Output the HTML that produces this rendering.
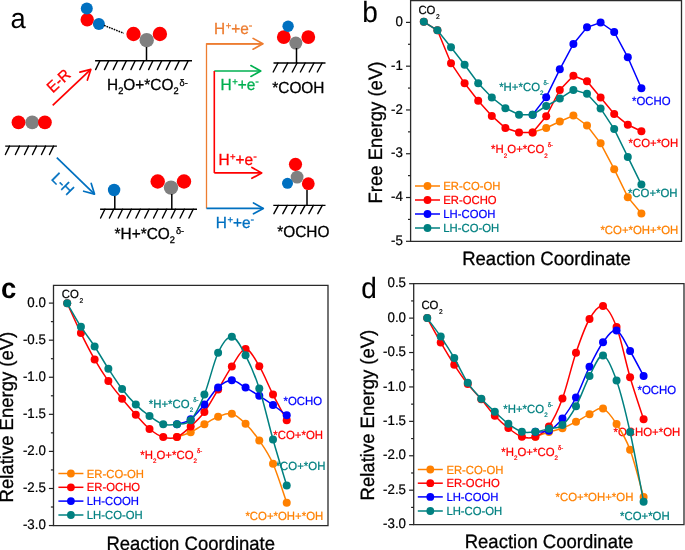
<!DOCTYPE html>
<html><head><meta charset="utf-8"><style>
html,body{margin:0;padding:0;background:#fff;width:685px;height:550px;overflow:hidden}
svg{display:block;will-change:transform}
text{font-family:"Liberation Sans", sans-serif;text-rendering:geometricPrecision}
</style></head><body>
<svg width="685" height="550" viewBox="0 0 685 550">
<rect width="685" height="550" fill="#fff"/>
<text transform="translate(10.60 28.30) scale(1 1.04) translate(-10.60 -28.30)" x="10.6" y="28.3" font-size="27.3" fill="#000">a</text>
<circle cx="87.20" cy="19.70" r="6.70" fill="#FF0000"/>
<circle cx="86.80" cy="8.60" r="6.00" fill="#0070C0"/>
<circle cx="98.90" cy="23.90" r="6.00" fill="#0070C0"/>
<line x1="104.10" y1="25.40" x2="123.80" y2="33.30" stroke="#000" stroke-width="1.5" stroke-dasharray="1.6 1.0"/>
<circle cx="133.50" cy="34.00" r="7.20" fill="#FF0000"/>
<circle cx="159.90" cy="34.00" r="7.20" fill="#FF0000"/>
<circle cx="146.70" cy="40.20" r="7.20" fill="#808080"/>
<line x1="146.50" y1="47.00" x2="146.50" y2="61.00" stroke="#000" stroke-width="1.5" />
<line x1="95.10" y1="60.80" x2="192.00" y2="60.80" stroke="#000" stroke-width="1.4" />
<line x1="95.60" y1="69.60" x2="99.90" y2="60.80" stroke="#000" stroke-width="1.4" stroke-linecap="round"/>
<line x1="104.43" y1="69.60" x2="108.73" y2="60.80" stroke="#000" stroke-width="1.4" stroke-linecap="round"/>
<line x1="113.26" y1="69.60" x2="117.56" y2="60.80" stroke="#000" stroke-width="1.4" stroke-linecap="round"/>
<line x1="122.09" y1="69.60" x2="126.39" y2="60.80" stroke="#000" stroke-width="1.4" stroke-linecap="round"/>
<line x1="130.92" y1="69.60" x2="135.22" y2="60.80" stroke="#000" stroke-width="1.4" stroke-linecap="round"/>
<line x1="139.75" y1="69.60" x2="144.05" y2="60.80" stroke="#000" stroke-width="1.4" stroke-linecap="round"/>
<line x1="148.58" y1="69.60" x2="152.88" y2="60.80" stroke="#000" stroke-width="1.4" stroke-linecap="round"/>
<line x1="157.41" y1="69.60" x2="161.71" y2="60.80" stroke="#000" stroke-width="1.4" stroke-linecap="round"/>
<line x1="166.24" y1="69.60" x2="170.54" y2="60.80" stroke="#000" stroke-width="1.4" stroke-linecap="round"/>
<line x1="175.07" y1="69.60" x2="179.37" y2="60.80" stroke="#000" stroke-width="1.4" stroke-linecap="round"/>
<line x1="183.90" y1="69.60" x2="188.20" y2="60.80" stroke="#000" stroke-width="1.4" stroke-linecap="round"/>
<circle cx="32.20" cy="122.40" r="6.90" fill="#808080"/>
<circle cx="18.50" cy="122.40" r="6.90" fill="#FF0000"/>
<circle cx="44.90" cy="122.40" r="6.90" fill="#FF0000"/>
<line x1="5.20" y1="146.10" x2="56.90" y2="146.10" stroke="#000" stroke-width="1.4" />
<line x1="5.40" y1="154.50" x2="9.50" y2="146.10" stroke="#000" stroke-width="1.4" stroke-linecap="round"/>
<line x1="15.40" y1="154.50" x2="19.50" y2="146.10" stroke="#000" stroke-width="1.4" stroke-linecap="round"/>
<line x1="24.50" y1="154.50" x2="28.60" y2="146.10" stroke="#000" stroke-width="1.4" stroke-linecap="round"/>
<line x1="32.50" y1="154.50" x2="36.60" y2="146.10" stroke="#000" stroke-width="1.4" stroke-linecap="round"/>
<line x1="41.50" y1="154.50" x2="45.60" y2="146.10" stroke="#000" stroke-width="1.4" stroke-linecap="round"/>
<line x1="49.50" y1="154.50" x2="53.60" y2="146.10" stroke="#000" stroke-width="1.4" stroke-linecap="round"/>
<line x1="52.70" y1="105.30" x2="90.80" y2="69.40" stroke="#FF0000" stroke-width="1.7" />
<polyline points="79.95,72.17 90.80,69.40 87.39,80.07" fill="none" stroke="#FF0000" stroke-width="1.7" stroke-linejoin="round" stroke-linecap="round"/>
<text x="52.70" y="93.40" font-size="15" fill="#FF0000" stroke="#FF0000" stroke-width="0.3" font-weight="normal" transform="rotate(-43 52.7 93.4) translate(52.70 93.40) scale(1 1.04) translate(-52.70 -93.40)">E-R</text>
<line x1="56.80" y1="157.70" x2="94.50" y2="194.10" stroke="#0070C0" stroke-width="1.7" />
<polyline points="91.22,183.39 94.50,194.10 83.68,191.20" fill="none" stroke="#0070C0" stroke-width="1.7" stroke-linejoin="round" stroke-linecap="round"/>
<text x="50.60" y="179.20" font-size="15" fill="#0070C0" stroke="#0070C0" stroke-width="0.3" font-weight="normal" transform="rotate(45 50.6 179.2) translate(50.60 179.20) scale(1 1.04) translate(-50.60 -179.20)">L-H</text>
<circle cx="114.10" cy="190.00" r="6.20" fill="#0070C0"/>
<line x1="114.80" y1="196.00" x2="114.80" y2="209.20" stroke="#000" stroke-width="1.5" />
<circle cx="157.70" cy="181.50" r="7.20" fill="#FF0000"/>
<circle cx="184.00" cy="181.50" r="7.20" fill="#FF0000"/>
<circle cx="171.00" cy="187.60" r="7.20" fill="#808080"/>
<line x1="171.80" y1="194.00" x2="171.80" y2="209.20" stroke="#000" stroke-width="1.5" />
<line x1="100.10" y1="209.20" x2="197.00" y2="209.20" stroke="#000" stroke-width="1.4" />
<line x1="100.60" y1="218.00" x2="104.90" y2="209.20" stroke="#000" stroke-width="1.4" stroke-linecap="round"/>
<line x1="109.43" y1="218.00" x2="113.73" y2="209.20" stroke="#000" stroke-width="1.4" stroke-linecap="round"/>
<line x1="118.26" y1="218.00" x2="122.56" y2="209.20" stroke="#000" stroke-width="1.4" stroke-linecap="round"/>
<line x1="127.09" y1="218.00" x2="131.39" y2="209.20" stroke="#000" stroke-width="1.4" stroke-linecap="round"/>
<line x1="135.92" y1="218.00" x2="140.22" y2="209.20" stroke="#000" stroke-width="1.4" stroke-linecap="round"/>
<line x1="144.75" y1="218.00" x2="149.05" y2="209.20" stroke="#000" stroke-width="1.4" stroke-linecap="round"/>
<line x1="153.58" y1="218.00" x2="157.88" y2="209.20" stroke="#000" stroke-width="1.4" stroke-linecap="round"/>
<line x1="162.41" y1="218.00" x2="166.71" y2="209.20" stroke="#000" stroke-width="1.4" stroke-linecap="round"/>
<line x1="171.24" y1="218.00" x2="175.54" y2="209.20" stroke="#000" stroke-width="1.4" stroke-linecap="round"/>
<line x1="180.07" y1="218.00" x2="184.37" y2="209.20" stroke="#000" stroke-width="1.4" stroke-linecap="round"/>
<line x1="188.90" y1="218.00" x2="193.20" y2="209.20" stroke="#000" stroke-width="1.4" stroke-linecap="round"/>
<text transform="translate(107.10 90.10) scale(1 1.04) translate(-107.10 -90.10)" x="107.10" y="90.10" font-size="15.4" fill="#000" stroke="#000" stroke-width="0.3"><tspan y="90.10" font-size="15.4">H</tspan><tspan dx="0" y="93.49" font-size="9.24">2</tspan><tspan y="90.10" font-size="15.4">O+*CO</tspan><tspan dx="0" y="93.49" font-size="9.24">2</tspan><tspan dx="1.0" y="86.56" font-size="9.24">δ-</tspan></text>
<text transform="translate(114.60 238.60) scale(1 1.04) translate(-114.60 -238.60)" x="114.60" y="238.60" font-size="15.4" fill="#000" stroke="#000" stroke-width="0.3"><tspan y="238.60" font-size="15.4">*H+*CO</tspan><tspan dx="0" y="242.76" font-size="9.24">2</tspan><tspan dx="1.0" y="233.98" font-size="9.24">δ-</tspan></text>
<polyline points="206.5,208.4 206.5,43.8 262.9,43.8" fill="none" stroke="#ED7D31" stroke-width="1.3"/>
<line x1="206.50" y1="43.80" x2="262.90" y2="43.80" stroke="#ED7D31" stroke-width="1.7" />
<polyline points="253.10,38.37 262.90,43.80 253.10,49.23" fill="none" stroke="#ED7D31" stroke-width="1.7" stroke-linejoin="round" stroke-linecap="round"/>
<line x1="214.30" y1="71.00" x2="260.70" y2="71.00" stroke="#00B050" stroke-width="1.7" />
<polyline points="250.90,65.57 260.70,71.00 250.90,76.43" fill="none" stroke="#00B050" stroke-width="1.7" stroke-linejoin="round" stroke-linecap="round"/>
<polyline points="214.3,71.0 214.3,172.9" fill="none" stroke="#FF0000" stroke-width="1.6"/>
<line x1="214.30" y1="172.90" x2="261.70" y2="172.90" stroke="#FF0000" stroke-width="1.7" />
<polyline points="251.90,167.47 261.70,172.90 251.90,178.33" fill="none" stroke="#FF0000" stroke-width="1.7" stroke-linejoin="round" stroke-linecap="round"/>
<line x1="206.50" y1="208.40" x2="263.30" y2="208.40" stroke="#0070C0" stroke-width="1.7" />
<polyline points="253.50,202.97 263.30,208.40 253.50,213.83" fill="none" stroke="#0070C0" stroke-width="1.7" stroke-linejoin="round" stroke-linecap="round"/>
<text transform="translate(214.00 33.70) scale(1 1.04) translate(-214.00 -33.70)" x="214.00" y="33.70" font-size="15.4" fill="#ED7D31" stroke="#ED7D31" stroke-width="0.3">H<tspan dx="0.5" y="29.23" font-size="9.55">+</tspan><tspan y="33.70">+e</tspan><tspan y="29.08" font-size="10.78">-</tspan></text>
<text transform="translate(220.50 89.50) scale(1 1.04) translate(-220.50 -89.50)" x="220.50" y="89.50" font-size="15.4" fill="#00B050" stroke="#00B050" stroke-width="0.3">H<tspan dx="0.5" y="85.03" font-size="9.55">+</tspan><tspan y="89.50">+e</tspan><tspan y="84.88" font-size="10.78">-</tspan></text>
<text transform="translate(218.40 165.00) scale(1 1.04) translate(-218.40 -165.00)" x="218.40" y="165.00" font-size="15.4" fill="#FF0000" stroke="#FF0000" stroke-width="0.3">H<tspan dx="0.5" y="160.53" font-size="9.55">+</tspan><tspan y="165.00">+e</tspan><tspan y="160.38" font-size="10.78">-</tspan></text>
<text transform="translate(215.80 227.90) scale(1 1.04) translate(-215.80 -227.90)" x="215.80" y="227.90" font-size="15.4" fill="#0070C0" stroke="#0070C0" stroke-width="0.3">H<tspan dx="0.5" y="223.43" font-size="9.55">+</tspan><tspan y="227.90">+e</tspan><tspan y="223.28" font-size="10.78">-</tspan></text>
<circle cx="283.80" cy="37.10" r="6.90" fill="#FF0000"/>
<circle cx="288.10" cy="26.20" r="5.70" fill="#0070C0"/>
<circle cx="308.30" cy="37.10" r="6.90" fill="#FF0000"/>
<circle cx="295.80" cy="43.10" r="6.50" fill="#808080"/>
<line x1="296.50" y1="48.00" x2="296.50" y2="63.00" stroke="#000" stroke-width="1.5" />
<line x1="273.50" y1="63.00" x2="325.50" y2="63.00" stroke="#000" stroke-width="1.4" />
<line x1="273.20" y1="72.00" x2="278.00" y2="63.00" stroke="#000" stroke-width="1.4" stroke-linecap="round"/>
<line x1="283.00" y1="72.00" x2="287.80" y2="63.00" stroke="#000" stroke-width="1.4" stroke-linecap="round"/>
<line x1="292.30" y1="72.00" x2="297.10" y2="63.00" stroke="#000" stroke-width="1.4" stroke-linecap="round"/>
<line x1="300.40" y1="72.00" x2="305.20" y2="63.00" stroke="#000" stroke-width="1.4" stroke-linecap="round"/>
<line x1="309.20" y1="72.00" x2="314.00" y2="63.00" stroke="#000" stroke-width="1.4" stroke-linecap="round"/>
<line x1="317.30" y1="72.00" x2="322.10" y2="63.00" stroke="#000" stroke-width="1.4" stroke-linecap="round"/>
<text transform="translate(272.30 92.60) scale(1 1.04) translate(-272.30 -92.60)" x="272.30" y="92.60" font-size="15.4" fill="#000" stroke="#000" stroke-width="0.3" font-weight="normal" >*COOH</text>
<circle cx="295.50" cy="164.30" r="6.60" fill="#FF0000"/>
<circle cx="297.10" cy="177.10" r="6.40" fill="#808080"/>
<circle cx="287.50" cy="183.30" r="5.50" fill="#0070C0"/>
<circle cx="308.30" cy="183.70" r="6.40" fill="#FF0000"/>
<line x1="307.00" y1="190.00" x2="307.00" y2="205.40" stroke="#000" stroke-width="1.5" />
<line x1="273.30" y1="205.40" x2="325.50" y2="205.40" stroke="#000" stroke-width="1.4" />
<line x1="273.90" y1="213.70" x2="278.40" y2="205.40" stroke="#000" stroke-width="1.4" stroke-linecap="round"/>
<line x1="282.80" y1="213.70" x2="287.30" y2="205.40" stroke="#000" stroke-width="1.4" stroke-linecap="round"/>
<line x1="291.70" y1="213.70" x2="296.20" y2="205.40" stroke="#000" stroke-width="1.4" stroke-linecap="round"/>
<line x1="300.60" y1="213.70" x2="305.10" y2="205.40" stroke="#000" stroke-width="1.4" stroke-linecap="round"/>
<line x1="308.90" y1="213.70" x2="313.40" y2="205.40" stroke="#000" stroke-width="1.4" stroke-linecap="round"/>
<line x1="317.80" y1="213.70" x2="322.30" y2="205.40" stroke="#000" stroke-width="1.4" stroke-linecap="round"/>
<text transform="translate(277.30 237.20) scale(1 1.04) translate(-277.30 -237.20)" x="277.30" y="237.20" font-size="15.4" fill="#000" stroke="#000" stroke-width="0.3" font-weight="normal" >*OCHO</text>
<text transform="translate(499.20 90.60) scale(1 1.04) translate(-499.20 -90.60)" x="499.20" y="90.60" font-size="11.4" fill="#008080" stroke="#008080" stroke-width="0.22"><tspan y="90.60" font-size="11.4">*H+*CO</tspan><tspan dx="0" y="94.70" font-size="6.27">2</tspan><tspan dx="0" y="84.90" font-size="5.93">δ-</tspan></text>
<text transform="translate(491.10 153.30) scale(1 1.04) translate(-491.10 -153.30)" x="491.10" y="153.30" font-size="11.4" fill="#FF0000" stroke="#FF0000" stroke-width="0.22"><tspan y="153.30" font-size="11.4">*H</tspan><tspan dx="0" y="157.40" font-size="6.27">2</tspan><tspan y="153.30" font-size="11.4">O+*CO</tspan><tspan dx="0" y="157.40" font-size="6.27">2</tspan><tspan dx="0" y="147.60" font-size="5.93">δ-</tspan></text>
<text transform="translate(632.00 105.00) scale(1 1.04) translate(-632.00 -105.00)" x="632.00" y="105.00" font-size="11.4" fill="#0000FF" stroke="#0000FF" stroke-width="0.22"><tspan y="105.00" font-size="11.4">*OCHO</tspan></text>
<text transform="translate(628.50 147.00) scale(1 1.04) translate(-628.50 -147.00)" x="628.50" y="147.00" font-size="11.4" fill="#FF0000" stroke="#FF0000" stroke-width="0.22"><tspan y="147.00" font-size="11.4">*CO+*OH</tspan></text>
<text transform="translate(627.90 197.40) scale(1 1.04) translate(-627.90 -197.40)" x="627.90" y="197.40" font-size="11.4" fill="#008080" stroke="#008080" stroke-width="0.22"><tspan y="197.40" font-size="11.4">*CO+*OH</tspan></text>
<text transform="translate(600.40 234.00) scale(1 1.04) translate(-600.40 -234.00)" x="600.40" y="234.00" font-size="11.4" fill="#FF8000" stroke="#FF8000" stroke-width="0.22"><tspan y="234.00" font-size="11.4">*CO+*OH+*OH</tspan></text>
<path d="M532.60,132.40 L546.20,128.00 L559.80,121.50 L573.40,115.50 L587.00,125.50 L600.60,143.30 L614.20,169.20 L627.80,197.20 L641.40,213.60" fill="none" stroke="#FF8000" stroke-width="1.5"/>
<circle cx="532.60" cy="132.40" r="4.00" fill="#FF8000"/>
<circle cx="546.20" cy="128.00" r="4.00" fill="#FF8000"/>
<circle cx="559.80" cy="121.50" r="4.00" fill="#FF8000"/>
<circle cx="573.40" cy="115.50" r="4.00" fill="#FF8000"/>
<circle cx="587.00" cy="125.50" r="4.00" fill="#FF8000"/>
<circle cx="600.60" cy="143.30" r="4.00" fill="#FF8000"/>
<circle cx="614.20" cy="169.20" r="4.00" fill="#FF8000"/>
<circle cx="627.80" cy="197.20" r="4.00" fill="#FF8000"/>
<circle cx="641.40" cy="213.60" r="4.00" fill="#FF8000"/>
<path d="M423.80,21.80 L437.40,30.30 L451.00,63.20 L464.60,83.30 L478.20,100.70 L491.80,115.90 L505.40,128.00 L519.00,132.40 L532.60,132.40 L546.20,116.30 L559.80,89.90 L573.40,75.70 L587.00,81.20 L600.60,97.50 L614.20,113.90 L627.80,124.80 L641.40,131.20" fill="none" stroke="#FF0000" stroke-width="1.5"/>
<circle cx="423.80" cy="21.80" r="4.00" fill="#FF0000"/>
<circle cx="437.40" cy="30.30" r="4.00" fill="#FF0000"/>
<circle cx="451.00" cy="63.20" r="4.00" fill="#FF0000"/>
<circle cx="464.60" cy="83.30" r="4.00" fill="#FF0000"/>
<circle cx="478.20" cy="100.70" r="4.00" fill="#FF0000"/>
<circle cx="491.80" cy="115.90" r="4.00" fill="#FF0000"/>
<circle cx="505.40" cy="128.00" r="4.00" fill="#FF0000"/>
<circle cx="519.00" cy="132.40" r="4.00" fill="#FF0000"/>
<circle cx="532.60" cy="132.40" r="4.00" fill="#FF0000"/>
<circle cx="546.20" cy="116.30" r="4.00" fill="#FF0000"/>
<circle cx="559.80" cy="89.90" r="4.00" fill="#FF0000"/>
<circle cx="573.40" cy="75.70" r="4.00" fill="#FF0000"/>
<circle cx="587.00" cy="81.20" r="4.00" fill="#FF0000"/>
<circle cx="600.60" cy="97.50" r="4.00" fill="#FF0000"/>
<circle cx="614.20" cy="113.90" r="4.00" fill="#FF0000"/>
<circle cx="627.80" cy="124.80" r="4.00" fill="#FF0000"/>
<circle cx="641.40" cy="131.20" r="4.00" fill="#FF0000"/>
<path d="M532.60,114.70 L546.20,97.20 L559.80,69.30 L573.40,44.00 L587.00,27.30 L600.60,22.50 L614.20,32.00 L627.80,57.30 L641.40,88.30" fill="none" stroke="#0000FF" stroke-width="1.5"/>
<circle cx="532.60" cy="114.70" r="4.00" fill="#0000FF"/>
<circle cx="546.20" cy="97.20" r="4.00" fill="#0000FF"/>
<circle cx="559.80" cy="69.30" r="4.00" fill="#0000FF"/>
<circle cx="573.40" cy="44.00" r="4.00" fill="#0000FF"/>
<circle cx="587.00" cy="27.30" r="4.00" fill="#0000FF"/>
<circle cx="600.60" cy="22.50" r="4.00" fill="#0000FF"/>
<circle cx="614.20" cy="32.00" r="4.00" fill="#0000FF"/>
<circle cx="627.80" cy="57.30" r="4.00" fill="#0000FF"/>
<circle cx="641.40" cy="88.30" r="4.00" fill="#0000FF"/>
<path d="M423.80,21.80 L437.40,30.30 L451.00,47.30 L464.60,64.80 L478.20,83.30 L491.80,97.50 L505.40,108.20 L519.00,114.70 L532.60,114.70 L546.20,106.00 L559.80,98.60 L573.40,89.90 L587.00,93.80 L600.60,108.40 L614.20,129.10 L627.80,156.90 L641.40,184.60" fill="none" stroke="#008080" stroke-width="1.5"/>
<circle cx="423.80" cy="21.80" r="4.00" fill="#008080"/>
<circle cx="437.40" cy="30.30" r="4.00" fill="#008080"/>
<circle cx="451.00" cy="47.30" r="4.00" fill="#008080"/>
<circle cx="464.60" cy="64.80" r="4.00" fill="#008080"/>
<circle cx="478.20" cy="83.30" r="4.00" fill="#008080"/>
<circle cx="491.80" cy="97.50" r="4.00" fill="#008080"/>
<circle cx="505.40" cy="108.20" r="4.00" fill="#008080"/>
<circle cx="519.00" cy="114.70" r="4.00" fill="#008080"/>
<circle cx="532.60" cy="114.70" r="4.00" fill="#008080"/>
<circle cx="546.20" cy="106.00" r="4.00" fill="#008080"/>
<circle cx="559.80" cy="98.60" r="4.00" fill="#008080"/>
<circle cx="573.40" cy="89.90" r="4.00" fill="#008080"/>
<circle cx="587.00" cy="93.80" r="4.00" fill="#008080"/>
<circle cx="600.60" cy="108.40" r="4.00" fill="#008080"/>
<circle cx="614.20" cy="129.10" r="4.00" fill="#008080"/>
<circle cx="627.80" cy="156.90" r="4.00" fill="#008080"/>
<circle cx="641.40" cy="184.60" r="4.00" fill="#008080"/>
<path d="M410.6,0.6 L681.5,0.6 L681.5,241.3 L410.6,241.3 Z" fill="none" stroke="#2a2a2a" stroke-width="1.3"/>
<line x1="406.00" y1="22.40" x2="410.60" y2="22.40" stroke="#222" stroke-width="1.2" />
<text transform="translate(402.90 26.00) scale(1 1.04) translate(-402.90 -26.00)" x="402.90" y="26.00" font-size="13.3" fill="#000" stroke="#000" stroke-width="0.22" font-weight="normal" text-anchor="end">0</text>
<line x1="408.00" y1="44.29" x2="410.60" y2="44.29" stroke="#222" stroke-width="1.2" />
<line x1="406.00" y1="66.18" x2="410.60" y2="66.18" stroke="#222" stroke-width="1.2" />
<text transform="translate(402.90 69.78) scale(1 1.04) translate(-402.90 -69.78)" x="402.90" y="69.78" font-size="13.3" fill="#000" stroke="#000" stroke-width="0.22" font-weight="normal" text-anchor="end">-1</text>
<line x1="408.00" y1="88.07" x2="410.60" y2="88.07" stroke="#222" stroke-width="1.2" />
<line x1="406.00" y1="109.96" x2="410.60" y2="109.96" stroke="#222" stroke-width="1.2" />
<text transform="translate(402.90 113.56) scale(1 1.04) translate(-402.90 -113.56)" x="402.90" y="113.56" font-size="13.3" fill="#000" stroke="#000" stroke-width="0.22" font-weight="normal" text-anchor="end">-2</text>
<line x1="408.00" y1="131.85" x2="410.60" y2="131.85" stroke="#222" stroke-width="1.2" />
<line x1="406.00" y1="153.74" x2="410.60" y2="153.74" stroke="#222" stroke-width="1.2" />
<text transform="translate(402.90 157.34) scale(1 1.04) translate(-402.90 -157.34)" x="402.90" y="157.34" font-size="13.3" fill="#000" stroke="#000" stroke-width="0.22" font-weight="normal" text-anchor="end">-3</text>
<line x1="408.00" y1="175.63" x2="410.60" y2="175.63" stroke="#222" stroke-width="1.2" />
<line x1="406.00" y1="197.52" x2="410.60" y2="197.52" stroke="#222" stroke-width="1.2" />
<text transform="translate(402.90 201.12) scale(1 1.04) translate(-402.90 -201.12)" x="402.90" y="201.12" font-size="13.3" fill="#000" stroke="#000" stroke-width="0.22" font-weight="normal" text-anchor="end">-4</text>
<line x1="408.00" y1="219.41" x2="410.60" y2="219.41" stroke="#222" stroke-width="1.2" />
<line x1="406.00" y1="241.30" x2="410.60" y2="241.30" stroke="#222" stroke-width="1.2" />
<text transform="translate(402.90 244.90) scale(1 1.04) translate(-402.90 -244.90)" x="402.90" y="244.90" font-size="13.3" fill="#000" stroke="#000" stroke-width="0.22" font-weight="normal" text-anchor="end">-5</text>
<text transform="translate(362.20 22.00) scale(1 1.04) translate(-362.20 -22.00)" x="362.20" y="22.00" font-size="28" fill="#000" stroke="#000" stroke-width="0.1">b</text>
<text x="381.60" y="203.50" font-size="18.5" fill="#000" stroke="#000" stroke-width="0.3" transform="rotate(-90 381.60 203.50) translate(381.60 203.50) scale(1 1.04) translate(-381.60 -203.50)">Free Energy (eV)</text>
<text transform="translate(462.20 265.00) scale(1 1.04) translate(-462.20 -265.00)" x="462.20" y="265.00" font-size="18.5" fill="#000" stroke="#000" stroke-width="0.3" font-weight="normal" >Reaction Coordinate</text>
<line x1="415.00" y1="186.00" x2="440.00" y2="186.00" stroke="#FF8000" stroke-width="1.5" />
<circle cx="427.50" cy="186.00" r="3.90" fill="#FF8000"/>
<text transform="translate(443.30 190.10) scale(1 1.04) translate(-443.30 -190.10)" x="443.30" y="190.10" font-size="11.3" fill="#FF8000" stroke="#FF8000" stroke-width="0.22" font-weight="normal" >ER-CO-OH</text>
<line x1="415.00" y1="200.00" x2="440.00" y2="200.00" stroke="#FF0000" stroke-width="1.5" />
<circle cx="427.50" cy="200.00" r="3.90" fill="#FF0000"/>
<text transform="translate(443.30 204.10) scale(1 1.04) translate(-443.30 -204.10)" x="443.30" y="204.10" font-size="11.3" fill="#FF0000" stroke="#FF0000" stroke-width="0.22" font-weight="normal" >ER-OCHO</text>
<line x1="415.00" y1="214.00" x2="440.00" y2="214.00" stroke="#0000FF" stroke-width="1.5" />
<circle cx="427.50" cy="214.00" r="3.90" fill="#0000FF"/>
<text transform="translate(443.30 218.10) scale(1 1.04) translate(-443.30 -218.10)" x="443.30" y="218.10" font-size="11.3" fill="#0000FF" stroke="#0000FF" stroke-width="0.22" font-weight="normal" >LH-COOH</text>
<line x1="415.00" y1="228.00" x2="440.00" y2="228.00" stroke="#008080" stroke-width="1.5" />
<circle cx="427.50" cy="228.00" r="3.90" fill="#008080"/>
<text transform="translate(443.30 232.10) scale(1 1.04) translate(-443.30 -232.10)" x="443.30" y="232.10" font-size="11.3" fill="#008080" stroke="#008080" stroke-width="0.22" font-weight="normal" >LH-CO-OH</text>
<text transform="translate(418.40 14.20) scale(1 1.04) translate(-418.40 -14.20)" x="418.40" y="14.20" font-size="11.4" fill="#000" stroke="#000" stroke-width="0.22"><tspan y="14.20" font-size="11.4">CO</tspan><tspan dx="0.5" y="18.53" font-size="6.61">2</tspan></text>
<text transform="translate(148.80 407.90) scale(1 1.04) translate(-148.80 -407.90)" x="148.80" y="407.90" font-size="11.4" fill="#008080" stroke="#008080" stroke-width="0.22"><tspan y="407.90" font-size="11.4">*H+*CO</tspan><tspan dx="0" y="412.00" font-size="6.27">2</tspan><tspan dx="0" y="402.20" font-size="5.93">δ-</tspan></text>
<text transform="translate(140.30 458.60) scale(1 1.04) translate(-140.30 -458.60)" x="140.30" y="458.60" font-size="11.4" fill="#FF0000" stroke="#FF0000" stroke-width="0.22"><tspan y="458.60" font-size="11.4">*H</tspan><tspan dx="0" y="462.70" font-size="6.27">2</tspan><tspan y="458.60" font-size="11.4">O+*CO</tspan><tspan dx="0" y="462.70" font-size="6.27">2</tspan><tspan dx="0" y="452.90" font-size="5.93">δ-</tspan></text>
<text transform="translate(283.50 404.60) scale(1 1.04) translate(-283.50 -404.60)" x="283.50" y="404.60" font-size="11.4" fill="#0000FF" stroke="#0000FF" stroke-width="0.22"><tspan y="404.60" font-size="11.4">*OCHO</tspan></text>
<text transform="translate(273.30 438.80) scale(1 1.04) translate(-273.30 -438.80)" x="273.30" y="438.80" font-size="11.4" fill="#FF0000" stroke="#FF0000" stroke-width="0.22"><tspan y="438.80" font-size="11.4">*CO+*OH</tspan></text>
<text transform="translate(275.70 469.80) scale(1 1.04) translate(-275.70 -469.80)" x="275.70" y="469.80" font-size="11.4" fill="#008080" stroke="#008080" stroke-width="0.22"><tspan y="469.80" font-size="11.4">*CO+*OH</tspan></text>
<text transform="translate(245.40 519.50) scale(1 1.04) translate(-245.40 -519.50)" x="245.40" y="519.50" font-size="11.4" fill="#FF8000" stroke="#FF8000" stroke-width="0.22"><tspan y="519.50" font-size="11.4">*CO+*OH+*OH</tspan></text>
<path d="M176.96,437.10 C179.25,436.30 186.11,434.45 190.68,432.30 C195.25,430.15 199.83,426.78 204.40,424.20 C208.97,421.62 213.55,418.53 218.12,416.80 C222.69,415.07 227.27,412.63 231.84,413.80 C236.41,414.97 240.99,419.35 245.56,423.80 C250.13,428.25 254.71,433.83 259.28,440.50 C263.85,447.17 268.43,453.42 273.00,463.80 C277.57,474.18 284.43,496.30 286.72,502.80" fill="none" stroke="#FF8000" stroke-width="1.5"/>
<circle cx="176.96" cy="437.10" r="4.00" fill="#FF8000"/>
<circle cx="190.68" cy="432.30" r="4.00" fill="#FF8000"/>
<circle cx="204.40" cy="424.20" r="4.00" fill="#FF8000"/>
<circle cx="218.12" cy="416.80" r="4.00" fill="#FF8000"/>
<circle cx="231.84" cy="413.80" r="4.00" fill="#FF8000"/>
<circle cx="245.56" cy="423.80" r="4.00" fill="#FF8000"/>
<circle cx="259.28" cy="440.50" r="4.00" fill="#FF8000"/>
<circle cx="273.00" cy="463.80" r="4.00" fill="#FF8000"/>
<circle cx="286.72" cy="502.80" r="4.00" fill="#FF8000"/>
<path d="M67.20,303.30 C69.49,308.27 76.35,323.75 80.92,333.10 C85.49,342.45 90.07,351.40 94.64,359.40 C99.21,367.40 103.79,374.53 108.36,381.10 C112.93,387.67 117.51,393.20 122.08,398.80 C126.65,404.40 131.23,409.67 135.80,414.70 C140.37,419.73 144.95,425.27 149.52,429.00 C154.09,432.73 158.67,435.75 163.24,437.10 C167.81,438.45 172.39,438.88 176.96,437.10 C181.53,435.32 186.11,430.58 190.68,426.40 C195.25,422.22 199.83,418.15 204.40,412.00 C208.97,405.85 213.55,397.10 218.12,389.50 C222.69,381.90 227.27,373.15 231.84,366.40 C236.41,359.65 240.99,349.03 245.56,349.00 C250.13,348.97 254.71,358.60 259.28,366.20 C263.85,373.80 268.43,385.58 273.00,394.60 C277.57,403.62 284.43,416.02 286.72,420.30" fill="none" stroke="#FF0000" stroke-width="1.5"/>
<circle cx="67.20" cy="303.30" r="4.00" fill="#FF0000"/>
<circle cx="80.92" cy="333.10" r="4.00" fill="#FF0000"/>
<circle cx="94.64" cy="359.40" r="4.00" fill="#FF0000"/>
<circle cx="108.36" cy="381.10" r="4.00" fill="#FF0000"/>
<circle cx="122.08" cy="398.80" r="4.00" fill="#FF0000"/>
<circle cx="135.80" cy="414.70" r="4.00" fill="#FF0000"/>
<circle cx="149.52" cy="429.00" r="4.00" fill="#FF0000"/>
<circle cx="163.24" cy="437.10" r="4.00" fill="#FF0000"/>
<circle cx="176.96" cy="437.10" r="4.00" fill="#FF0000"/>
<circle cx="190.68" cy="426.40" r="4.00" fill="#FF0000"/>
<circle cx="204.40" cy="412.00" r="4.00" fill="#FF0000"/>
<circle cx="218.12" cy="389.50" r="4.00" fill="#FF0000"/>
<circle cx="231.84" cy="366.40" r="4.00" fill="#FF0000"/>
<circle cx="245.56" cy="349.00" r="4.00" fill="#FF0000"/>
<circle cx="259.28" cy="366.20" r="4.00" fill="#FF0000"/>
<circle cx="273.00" cy="394.60" r="4.00" fill="#FF0000"/>
<circle cx="286.72" cy="420.30" r="4.00" fill="#FF0000"/>
<path d="M176.96,424.30 C179.25,423.47 186.11,422.58 190.68,419.30 C195.25,416.02 199.83,409.92 204.40,404.60 C208.97,399.28 213.55,391.45 218.12,387.40 C222.69,383.35 227.27,380.27 231.84,380.30 C236.41,380.33 240.99,385.02 245.56,387.60 C250.13,390.18 254.71,392.90 259.28,395.80 C263.85,398.70 268.43,401.75 273.00,405.00 C277.57,408.25 284.43,413.58 286.72,415.30" fill="none" stroke="#0000FF" stroke-width="1.5"/>
<circle cx="176.96" cy="424.30" r="4.00" fill="#0000FF"/>
<circle cx="190.68" cy="419.30" r="4.00" fill="#0000FF"/>
<circle cx="204.40" cy="404.60" r="4.00" fill="#0000FF"/>
<circle cx="218.12" cy="387.40" r="4.00" fill="#0000FF"/>
<circle cx="231.84" cy="380.30" r="4.00" fill="#0000FF"/>
<circle cx="245.56" cy="387.60" r="4.00" fill="#0000FF"/>
<circle cx="259.28" cy="395.80" r="4.00" fill="#0000FF"/>
<circle cx="273.00" cy="405.00" r="4.00" fill="#0000FF"/>
<circle cx="286.72" cy="415.30" r="4.00" fill="#0000FF"/>
<path d="M67.20,303.30 C69.49,307.20 76.35,319.50 80.92,326.70 C85.49,333.90 90.07,339.50 94.64,346.50 C99.21,353.50 103.79,361.62 108.36,368.70 C112.93,375.78 117.51,383.02 122.08,389.00 C126.65,394.98 131.23,400.10 135.80,404.60 C140.37,409.10 144.95,412.72 149.52,416.00 C154.09,419.28 158.67,422.92 163.24,424.30 C167.81,425.68 172.39,424.97 176.96,424.30 C181.53,423.63 186.11,425.27 190.68,420.30 C195.25,415.33 199.83,405.77 204.40,394.50 C208.97,383.23 213.55,362.32 218.12,352.70 C222.69,343.08 227.27,336.37 231.84,336.80 C236.41,337.23 240.99,346.68 245.56,355.30 C250.13,363.92 254.71,374.47 259.28,388.50 C263.85,402.53 268.43,423.33 273.00,439.50 C277.57,455.67 284.43,477.83 286.72,485.50" fill="none" stroke="#008080" stroke-width="1.5"/>
<circle cx="67.20" cy="303.30" r="4.00" fill="#008080"/>
<circle cx="80.92" cy="326.70" r="4.00" fill="#008080"/>
<circle cx="94.64" cy="346.50" r="4.00" fill="#008080"/>
<circle cx="108.36" cy="368.70" r="4.00" fill="#008080"/>
<circle cx="122.08" cy="389.00" r="4.00" fill="#008080"/>
<circle cx="135.80" cy="404.60" r="4.00" fill="#008080"/>
<circle cx="149.52" cy="416.00" r="4.00" fill="#008080"/>
<circle cx="163.24" cy="424.30" r="4.00" fill="#008080"/>
<circle cx="176.96" cy="424.30" r="4.00" fill="#008080"/>
<circle cx="190.68" cy="420.30" r="4.00" fill="#008080"/>
<circle cx="204.40" cy="394.50" r="4.00" fill="#008080"/>
<circle cx="218.12" cy="352.70" r="4.00" fill="#008080"/>
<circle cx="231.84" cy="336.80" r="4.00" fill="#008080"/>
<circle cx="245.56" cy="355.30" r="4.00" fill="#008080"/>
<circle cx="259.28" cy="388.50" r="4.00" fill="#008080"/>
<circle cx="273.00" cy="439.50" r="4.00" fill="#008080"/>
<circle cx="286.72" cy="485.50" r="4.00" fill="#008080"/>
<path d="M53.5,285.3 L328.0,285.3 L328.0,525.6 L53.5,525.6 Z" fill="none" stroke="#2a2a2a" stroke-width="1.3"/>
<line x1="48.90" y1="303.10" x2="53.50" y2="303.10" stroke="#222" stroke-width="1.2" />
<text transform="translate(45.80 306.70) scale(1 1.04) translate(-45.80 -306.70)" x="45.80" y="306.70" font-size="13.3" fill="#000" stroke="#000" stroke-width="0.22" font-weight="normal" text-anchor="end">0.0</text>
<line x1="50.90" y1="321.64" x2="53.50" y2="321.64" stroke="#222" stroke-width="1.2" />
<line x1="48.90" y1="340.18" x2="53.50" y2="340.18" stroke="#222" stroke-width="1.2" />
<text transform="translate(45.80 343.78) scale(1 1.04) translate(-45.80 -343.78)" x="45.80" y="343.78" font-size="13.3" fill="#000" stroke="#000" stroke-width="0.22" font-weight="normal" text-anchor="end">-0.5</text>
<line x1="50.90" y1="358.71" x2="53.50" y2="358.71" stroke="#222" stroke-width="1.2" />
<line x1="48.90" y1="377.25" x2="53.50" y2="377.25" stroke="#222" stroke-width="1.2" />
<text transform="translate(45.80 380.85) scale(1 1.04) translate(-45.80 -380.85)" x="45.80" y="380.85" font-size="13.3" fill="#000" stroke="#000" stroke-width="0.22" font-weight="normal" text-anchor="end">-1.0</text>
<line x1="50.90" y1="395.79" x2="53.50" y2="395.79" stroke="#222" stroke-width="1.2" />
<line x1="48.90" y1="414.33" x2="53.50" y2="414.33" stroke="#222" stroke-width="1.2" />
<text transform="translate(45.80 417.93) scale(1 1.04) translate(-45.80 -417.93)" x="45.80" y="417.93" font-size="13.3" fill="#000" stroke="#000" stroke-width="0.22" font-weight="normal" text-anchor="end">-1.5</text>
<line x1="50.90" y1="432.86" x2="53.50" y2="432.86" stroke="#222" stroke-width="1.2" />
<line x1="48.90" y1="451.40" x2="53.50" y2="451.40" stroke="#222" stroke-width="1.2" />
<text transform="translate(45.80 455.00) scale(1 1.04) translate(-45.80 -455.00)" x="45.80" y="455.00" font-size="13.3" fill="#000" stroke="#000" stroke-width="0.22" font-weight="normal" text-anchor="end">-2.0</text>
<line x1="50.90" y1="469.94" x2="53.50" y2="469.94" stroke="#222" stroke-width="1.2" />
<line x1="48.90" y1="488.48" x2="53.50" y2="488.48" stroke="#222" stroke-width="1.2" />
<text transform="translate(45.80 492.08) scale(1 1.04) translate(-45.80 -492.08)" x="45.80" y="492.08" font-size="13.3" fill="#000" stroke="#000" stroke-width="0.22" font-weight="normal" text-anchor="end">-2.5</text>
<line x1="50.90" y1="507.01" x2="53.50" y2="507.01" stroke="#222" stroke-width="1.2" />
<line x1="48.90" y1="525.55" x2="53.50" y2="525.55" stroke="#222" stroke-width="1.2" />
<text transform="translate(45.80 529.15) scale(1 1.04) translate(-45.80 -529.15)" x="45.80" y="529.15" font-size="13.3" fill="#000" stroke="#000" stroke-width="0.22" font-weight="normal" text-anchor="end">-3.0</text>
<text transform="translate(1.00 298.00) scale(1 1.04) translate(-1.00 -298.00)" x="1.00" y="298.00" font-size="27.5" font-weight="bold" fill="#000">c</text>
<text x="13.00" y="502.40" font-size="18.5" fill="#000" stroke="#000" stroke-width="0.3" transform="rotate(-90 13.00 502.40) translate(13.00 502.40) scale(1 1.04) translate(-13.00 -502.40)">Relative Energy (eV)</text>
<text transform="translate(106.40 549.60) scale(1 1.04) translate(-106.40 -549.60)" x="106.40" y="549.60" font-size="18.5" fill="#000" stroke="#000" stroke-width="0.3" font-weight="normal" >Reaction Coordinate</text>
<line x1="58.40" y1="473.50" x2="83.40" y2="473.50" stroke="#FF8000" stroke-width="1.5" />
<circle cx="70.90" cy="473.50" r="3.90" fill="#FF8000"/>
<text transform="translate(86.80 477.60) scale(1 1.04) translate(-86.80 -477.60)" x="86.80" y="477.60" font-size="11.3" fill="#FF8000" stroke="#FF8000" stroke-width="0.22" font-weight="normal" >ER-CO-OH</text>
<line x1="58.40" y1="487.30" x2="83.40" y2="487.30" stroke="#FF0000" stroke-width="1.5" />
<circle cx="70.90" cy="487.30" r="3.90" fill="#FF0000"/>
<text transform="translate(86.80 491.40) scale(1 1.04) translate(-86.80 -491.40)" x="86.80" y="491.40" font-size="11.3" fill="#FF0000" stroke="#FF0000" stroke-width="0.22" font-weight="normal" >ER-OCHO</text>
<line x1="58.40" y1="501.10" x2="83.40" y2="501.10" stroke="#0000FF" stroke-width="1.5" />
<circle cx="70.90" cy="501.10" r="3.90" fill="#0000FF"/>
<text transform="translate(86.80 505.20) scale(1 1.04) translate(-86.80 -505.20)" x="86.80" y="505.20" font-size="11.3" fill="#0000FF" stroke="#0000FF" stroke-width="0.22" font-weight="normal" >LH-COOH</text>
<line x1="58.40" y1="515.00" x2="83.40" y2="515.00" stroke="#008080" stroke-width="1.5" />
<circle cx="70.90" cy="515.00" r="3.90" fill="#008080"/>
<text transform="translate(86.80 519.10) scale(1 1.04) translate(-86.80 -519.10)" x="86.80" y="519.10" font-size="11.3" fill="#008080" stroke="#008080" stroke-width="0.22" font-weight="normal" >LH-CO-OH</text>
<text transform="translate(61.80 298.30) scale(1 1.04) translate(-61.80 -298.30)" x="61.80" y="298.30" font-size="11.4" fill="#000" stroke="#000" stroke-width="0.22"><tspan y="298.30" font-size="11.4">CO</tspan><tspan dx="0.5" y="302.63" font-size="6.61">2</tspan></text>
<text transform="translate(503.30 413.00) scale(1 1.04) translate(-503.30 -413.00)" x="503.30" y="413.00" font-size="11.4" fill="#008080" stroke="#008080" stroke-width="0.22"><tspan y="413.00" font-size="11.4">*H+*CO</tspan><tspan dx="0" y="417.10" font-size="6.27">2</tspan><tspan dx="0" y="407.30" font-size="5.93">δ-</tspan></text>
<text transform="translate(501.30 455.60) scale(1 1.04) translate(-501.30 -455.60)" x="501.30" y="455.60" font-size="11.4" fill="#FF0000" stroke="#FF0000" stroke-width="0.22"><tspan y="455.60" font-size="11.4">*H</tspan><tspan dx="0" y="459.70" font-size="6.27">2</tspan><tspan y="455.60" font-size="11.4">O+*CO</tspan><tspan dx="0" y="459.70" font-size="6.27">2</tspan><tspan dx="0" y="449.90" font-size="5.93">δ-</tspan></text>
<text transform="translate(637.50 393.70) scale(1 1.04) translate(-637.50 -393.70)" x="637.50" y="393.70" font-size="11.4" fill="#0000FF" stroke="#0000FF" stroke-width="0.22"><tspan y="393.70" font-size="11.4">*OCHO</tspan></text>
<text transform="translate(613.50 436.40) scale(1 1.04) translate(-613.50 -436.40)" x="613.50" y="436.40" font-size="11.4" fill="#FF0000" stroke="#FF0000" stroke-width="0.22"><tspan y="436.40" font-size="11.4">*OCHO+*OH</tspan></text>
<text transform="translate(555.50 501.30) scale(1 1.04) translate(-555.50 -501.30)" x="555.50" y="501.30" font-size="11.4" fill="#FF8000" stroke="#FF8000" stroke-width="0.22"><tspan y="501.30" font-size="11.4">*CO+*OH+*OH</tspan></text>
<text transform="translate(620.00 520.00) scale(1 1.04) translate(-620.00 -520.00)" x="620.00" y="520.00" font-size="11.4" fill="#008080" stroke="#008080" stroke-width="0.22"><tspan y="520.00" font-size="11.4">*CO+*OH</tspan></text>
<path d="M535.40,436.80 C537.65,436.00 544.42,433.43 548.92,432.00 C553.43,430.57 557.94,429.90 562.45,428.20 C566.96,426.50 571.47,424.13 575.98,421.80 C580.48,419.47 584.99,416.40 589.50,414.20 C594.01,412.00 598.52,406.98 603.02,408.60 C607.53,410.22 612.04,417.03 616.55,423.90 C621.06,430.77 625.57,437.62 630.08,449.80 C634.58,461.98 641.35,489.13 643.60,497.00" fill="none" stroke="#FF8000" stroke-width="1.5"/>
<circle cx="535.40" cy="436.80" r="4.00" fill="#FF8000"/>
<circle cx="548.92" cy="432.00" r="4.00" fill="#FF8000"/>
<circle cx="562.45" cy="428.20" r="4.00" fill="#FF8000"/>
<circle cx="575.98" cy="421.80" r="4.00" fill="#FF8000"/>
<circle cx="589.50" cy="414.20" r="4.00" fill="#FF8000"/>
<circle cx="603.02" cy="408.60" r="4.00" fill="#FF8000"/>
<circle cx="616.55" cy="423.90" r="4.00" fill="#FF8000"/>
<circle cx="630.08" cy="449.80" r="4.00" fill="#FF8000"/>
<circle cx="643.60" cy="497.00" r="4.00" fill="#FF8000"/>
<path d="M427.20,318.10 C429.45,322.15 436.22,334.62 440.72,342.40 C445.23,350.18 449.74,357.85 454.25,364.80 C458.76,371.75 463.27,378.35 467.77,384.10 C472.28,389.85 476.79,394.03 481.30,399.30 C485.81,404.57 490.32,410.90 494.82,415.70 C499.33,420.50 503.84,424.58 508.35,428.10 C512.86,431.62 517.37,435.35 521.88,436.80 C526.38,438.25 530.89,438.53 535.40,436.80 C539.91,435.07 544.42,432.77 548.92,426.40 C553.43,420.03 557.94,410.87 562.45,398.60 C566.96,386.33 571.47,366.07 575.98,352.80 C580.48,339.53 584.99,326.78 589.50,319.00 C594.01,311.22 598.52,304.77 603.02,306.10 C607.53,307.43 612.04,315.15 616.55,327.00 C621.06,338.85 625.57,361.82 630.08,377.20 C634.58,392.58 641.35,412.28 643.60,419.30" fill="none" stroke="#FF0000" stroke-width="1.5"/>
<circle cx="427.20" cy="318.10" r="4.00" fill="#FF0000"/>
<circle cx="440.72" cy="342.40" r="4.00" fill="#FF0000"/>
<circle cx="454.25" cy="364.80" r="4.00" fill="#FF0000"/>
<circle cx="467.77" cy="384.10" r="4.00" fill="#FF0000"/>
<circle cx="481.30" cy="399.30" r="4.00" fill="#FF0000"/>
<circle cx="494.82" cy="415.70" r="4.00" fill="#FF0000"/>
<circle cx="508.35" cy="428.10" r="4.00" fill="#FF0000"/>
<circle cx="521.88" cy="436.80" r="4.00" fill="#FF0000"/>
<circle cx="535.40" cy="436.80" r="4.00" fill="#FF0000"/>
<circle cx="548.92" cy="426.40" r="4.00" fill="#FF0000"/>
<circle cx="562.45" cy="398.60" r="4.00" fill="#FF0000"/>
<circle cx="575.98" cy="352.80" r="4.00" fill="#FF0000"/>
<circle cx="589.50" cy="319.00" r="4.00" fill="#FF0000"/>
<circle cx="603.02" cy="306.10" r="4.00" fill="#FF0000"/>
<circle cx="616.55" cy="327.00" r="4.00" fill="#FF0000"/>
<circle cx="630.08" cy="377.20" r="4.00" fill="#FF0000"/>
<circle cx="643.60" cy="419.30" r="4.00" fill="#FF0000"/>
<path d="M535.40,431.80 C537.65,431.62 544.42,432.92 548.92,430.70 C553.43,428.48 557.94,424.03 562.45,418.50 C566.96,412.97 571.47,406.12 575.98,397.50 C580.48,388.88 584.99,376.00 589.50,366.80 C594.01,357.60 598.52,348.35 603.02,342.30 C607.53,336.25 612.04,329.05 616.55,330.50 C621.06,331.95 625.57,343.40 630.08,351.00 C634.58,358.60 641.35,371.92 643.60,376.10" fill="none" stroke="#0000FF" stroke-width="1.5"/>
<circle cx="535.40" cy="431.80" r="4.00" fill="#0000FF"/>
<circle cx="548.92" cy="430.70" r="4.00" fill="#0000FF"/>
<circle cx="562.45" cy="418.50" r="4.00" fill="#0000FF"/>
<circle cx="575.98" cy="397.50" r="4.00" fill="#0000FF"/>
<circle cx="589.50" cy="366.80" r="4.00" fill="#0000FF"/>
<circle cx="603.02" cy="342.30" r="4.00" fill="#0000FF"/>
<circle cx="616.55" cy="330.50" r="4.00" fill="#0000FF"/>
<circle cx="630.08" cy="351.00" r="4.00" fill="#0000FF"/>
<circle cx="643.60" cy="376.10" r="4.00" fill="#0000FF"/>
<path d="M427.20,318.10 C429.45,321.18 436.22,329.95 440.72,336.60 C445.23,343.25 449.74,350.30 454.25,358.00 C458.76,365.70 463.27,376.02 467.77,382.80 C472.28,389.58 476.79,393.87 481.30,398.70 C485.81,403.53 490.32,407.62 494.82,411.80 C499.33,415.98 503.84,420.47 508.35,423.80 C512.86,427.13 517.37,430.47 521.88,431.80 C526.38,433.13 530.89,432.32 535.40,431.80 C539.91,431.28 544.42,429.82 548.92,428.70 C553.43,427.58 557.94,428.83 562.45,425.10 C566.96,421.37 571.47,414.47 575.98,406.30 C580.48,398.13 584.99,384.58 589.50,376.10 C594.01,367.62 598.52,354.67 603.02,355.40 C607.53,356.13 612.04,367.73 616.55,380.50 C621.06,393.27 625.57,411.80 630.08,432.00 C634.58,452.20 641.35,490.08 643.60,501.70" fill="none" stroke="#008080" stroke-width="1.5"/>
<circle cx="427.20" cy="318.10" r="4.00" fill="#008080"/>
<circle cx="440.72" cy="336.60" r="4.00" fill="#008080"/>
<circle cx="454.25" cy="358.00" r="4.00" fill="#008080"/>
<circle cx="467.77" cy="382.80" r="4.00" fill="#008080"/>
<circle cx="481.30" cy="398.70" r="4.00" fill="#008080"/>
<circle cx="494.82" cy="411.80" r="4.00" fill="#008080"/>
<circle cx="508.35" cy="423.80" r="4.00" fill="#008080"/>
<circle cx="521.88" cy="431.80" r="4.00" fill="#008080"/>
<circle cx="535.40" cy="431.80" r="4.00" fill="#008080"/>
<circle cx="548.92" cy="428.70" r="4.00" fill="#008080"/>
<circle cx="562.45" cy="425.10" r="4.00" fill="#008080"/>
<circle cx="575.98" cy="406.30" r="4.00" fill="#008080"/>
<circle cx="589.50" cy="376.10" r="4.00" fill="#008080"/>
<circle cx="603.02" cy="355.40" r="4.00" fill="#008080"/>
<circle cx="616.55" cy="380.50" r="4.00" fill="#008080"/>
<circle cx="630.08" cy="432.00" r="4.00" fill="#008080"/>
<circle cx="643.60" cy="501.70" r="4.00" fill="#008080"/>
<path d="M413.7,283.7 L684.0,283.7 L684.0,524.6 L413.7,524.6 Z" fill="none" stroke="#2a2a2a" stroke-width="1.3"/>
<line x1="409.10" y1="283.70" x2="413.70" y2="283.70" stroke="#222" stroke-width="1.2" />
<text transform="translate(406.00 287.30) scale(1 1.04) translate(-406.00 -287.30)" x="406.00" y="287.30" font-size="13.3" fill="#000" stroke="#000" stroke-width="0.22" font-weight="normal" text-anchor="end">0.5</text>
<line x1="411.10" y1="300.91" x2="413.70" y2="300.91" stroke="#222" stroke-width="1.2" />
<line x1="409.10" y1="318.12" x2="413.70" y2="318.12" stroke="#222" stroke-width="1.2" />
<text transform="translate(406.00 321.72) scale(1 1.04) translate(-406.00 -321.72)" x="406.00" y="321.72" font-size="13.3" fill="#000" stroke="#000" stroke-width="0.22" font-weight="normal" text-anchor="end">0.0</text>
<line x1="411.10" y1="335.32" x2="413.70" y2="335.32" stroke="#222" stroke-width="1.2" />
<line x1="409.10" y1="352.53" x2="413.70" y2="352.53" stroke="#222" stroke-width="1.2" />
<text transform="translate(406.00 356.13) scale(1 1.04) translate(-406.00 -356.13)" x="406.00" y="356.13" font-size="13.3" fill="#000" stroke="#000" stroke-width="0.22" font-weight="normal" text-anchor="end">-0.5</text>
<line x1="411.10" y1="369.74" x2="413.70" y2="369.74" stroke="#222" stroke-width="1.2" />
<line x1="409.10" y1="386.94" x2="413.70" y2="386.94" stroke="#222" stroke-width="1.2" />
<text transform="translate(406.00 390.55) scale(1 1.04) translate(-406.00 -390.55)" x="406.00" y="390.55" font-size="13.3" fill="#000" stroke="#000" stroke-width="0.22" font-weight="normal" text-anchor="end">-1.0</text>
<line x1="411.10" y1="404.15" x2="413.70" y2="404.15" stroke="#222" stroke-width="1.2" />
<line x1="409.10" y1="421.36" x2="413.70" y2="421.36" stroke="#222" stroke-width="1.2" />
<text transform="translate(406.00 424.96) scale(1 1.04) translate(-406.00 -424.96)" x="406.00" y="424.96" font-size="13.3" fill="#000" stroke="#000" stroke-width="0.22" font-weight="normal" text-anchor="end">-1.5</text>
<line x1="411.10" y1="438.57" x2="413.70" y2="438.57" stroke="#222" stroke-width="1.2" />
<line x1="409.10" y1="455.77" x2="413.70" y2="455.77" stroke="#222" stroke-width="1.2" />
<text transform="translate(406.00 459.38) scale(1 1.04) translate(-406.00 -459.38)" x="406.00" y="459.38" font-size="13.3" fill="#000" stroke="#000" stroke-width="0.22" font-weight="normal" text-anchor="end">-2.0</text>
<line x1="411.10" y1="472.98" x2="413.70" y2="472.98" stroke="#222" stroke-width="1.2" />
<line x1="409.10" y1="490.19" x2="413.70" y2="490.19" stroke="#222" stroke-width="1.2" />
<text transform="translate(406.00 493.79) scale(1 1.04) translate(-406.00 -493.79)" x="406.00" y="493.79" font-size="13.3" fill="#000" stroke="#000" stroke-width="0.22" font-weight="normal" text-anchor="end">-2.5</text>
<line x1="411.10" y1="507.40" x2="413.70" y2="507.40" stroke="#222" stroke-width="1.2" />
<line x1="409.10" y1="524.61" x2="413.70" y2="524.61" stroke="#222" stroke-width="1.2" />
<text transform="translate(406.00 528.21) scale(1 1.04) translate(-406.00 -528.21)" x="406.00" y="528.21" font-size="13.3" fill="#000" stroke="#000" stroke-width="0.22" font-weight="normal" text-anchor="end">-3.0</text>
<text transform="translate(361.20 297.70) scale(1 1.04) translate(-361.20 -297.70)" x="361.20" y="297.70" font-size="28" fill="#000" stroke="#000" stroke-width="0.1">d</text>
<text x="374.00" y="500.40" font-size="18.5" fill="#000" stroke="#000" stroke-width="0.3" transform="rotate(-90 374.00 500.40) translate(374.00 500.40) scale(1 1.04) translate(-374.00 -500.40)">Relative Energy (eV)</text>
<text transform="translate(464.70 548.30) scale(1 1.04) translate(-464.70 -548.30)" x="464.70" y="548.30" font-size="18.5" fill="#000" stroke="#000" stroke-width="0.3" font-weight="normal" >Reaction Coordinate</text>
<line x1="417.80" y1="469.50" x2="442.80" y2="469.50" stroke="#FF8000" stroke-width="1.5" />
<circle cx="430.30" cy="469.50" r="3.90" fill="#FF8000"/>
<text transform="translate(446.40 473.60) scale(1 1.04) translate(-446.40 -473.60)" x="446.40" y="473.60" font-size="11.3" fill="#FF8000" stroke="#FF8000" stroke-width="0.22" font-weight="normal" >ER-CO-OH</text>
<line x1="417.80" y1="483.20" x2="442.80" y2="483.20" stroke="#FF0000" stroke-width="1.5" />
<circle cx="430.30" cy="483.20" r="3.90" fill="#FF0000"/>
<text transform="translate(446.40 487.30) scale(1 1.04) translate(-446.40 -487.30)" x="446.40" y="487.30" font-size="11.3" fill="#FF0000" stroke="#FF0000" stroke-width="0.22" font-weight="normal" >ER-OCHO</text>
<line x1="417.80" y1="496.90" x2="442.80" y2="496.90" stroke="#0000FF" stroke-width="1.5" />
<circle cx="430.30" cy="496.90" r="3.90" fill="#0000FF"/>
<text transform="translate(446.40 501.00) scale(1 1.04) translate(-446.40 -501.00)" x="446.40" y="501.00" font-size="11.3" fill="#0000FF" stroke="#0000FF" stroke-width="0.22" font-weight="normal" >LH-COOH</text>
<line x1="417.80" y1="511.00" x2="442.80" y2="511.00" stroke="#008080" stroke-width="1.5" />
<circle cx="430.30" cy="511.00" r="3.90" fill="#008080"/>
<text transform="translate(446.40 515.10) scale(1 1.04) translate(-446.40 -515.10)" x="446.40" y="515.10" font-size="11.3" fill="#008080" stroke="#008080" stroke-width="0.22" font-weight="normal" >LH-CO-OH</text>
<text transform="translate(421.40 309.20) scale(1 1.04) translate(-421.40 -309.20)" x="421.40" y="309.20" font-size="11.4" fill="#000" stroke="#000" stroke-width="0.22"><tspan y="309.20" font-size="11.4">CO</tspan><tspan dx="0.5" y="313.53" font-size="6.61">2</tspan></text>
</svg></body></html>
